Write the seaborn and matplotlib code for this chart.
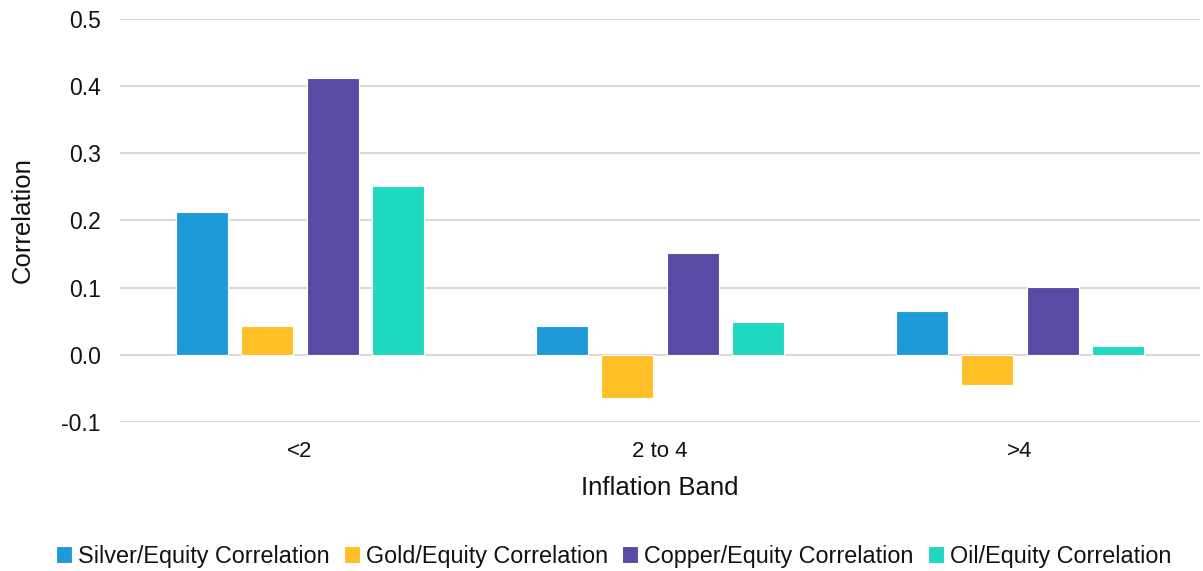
import pandas as pd
import seaborn as sns
import matplotlib
matplotlib.use("Agg")
import matplotlib.pyplot as plt
from matplotlib.ticker import FormatStrFormatter, MultipleLocator

bands = ["<2", "2 to 4", ">4"]
series_names = ["Silver/Equity Correlation", "Gold/Equity Correlation",
                "Copper/Equity Correlation", "Oil/Equity Correlation"]
silver = [0.213, 0.043, 0.065]
gold = [0.043, -0.065, -0.045]
copper = [0.412, 0.152, 0.101]
oil = [0.251, 0.049, 0.013]
colors = ["#1F9AD8", "#FFBF27", "#584BA5", "#1ED8C2"]

rows = []
for name, vals in zip(series_names, [silver, gold, copper, oil]):
    for b, v in zip(bands, vals):
        rows.append({"band": b, "series": name, "value": v})
df = pd.DataFrame(rows)

sns.set_theme(style="white")
plt.rcParams["font.family"] = ["Liberation Sans", "DejaVu Sans"]
plt.rcParams["axes.unicode_minus"] = False

fig = plt.figure(figsize=(12.03, 5.71), dpi=100)
ax = fig.add_axes([0.0998, 0.261, 0.8977, 0.7057])

sns.barplot(data=df, x="band", y="value", hue="series", order=bands,
            hue_order=series_names, palette=colors, width=0.725,
            saturation=1, edgecolor="white", linewidth=0.8, ax=ax)

for p in ax.patches:
    w = p.get_width()
    nw = w * 0.796
    p.set_x(p.get_x() + (w - nw) / 2)
    p.set_width(nw)

ax.set_xlim(-0.5, 2.5)
ax.set_ylim(-0.1, 0.5)
ax.yaxis.set_major_locator(MultipleLocator(0.1))
ax.yaxis.set_major_formatter(FormatStrFormatter("%.1f"))
ax.yaxis.grid(True, color="#D9D9D9", linewidth=1.5)
ax.set_axisbelow(True)
for s in ax.spines.values():
    s.set_visible(False)
ax.tick_params(axis="y", length=0, pad=14, labelsize=16.5, labelcolor="#111111")
ax.tick_params(axis="x", length=0, pad=14, labelsize=16, labelcolor="#111111")

ax.set_xlabel("Inflation Band", fontsize=18.5, color="#111111", labelpad=10)
ax.set_ylabel("Correlation", fontsize=18.5, color="#111111")
ax.yaxis.set_label_coords(-0.079, 0.5)

handles, labels = ax.get_legend_handles_labels()
ax.get_legend().remove()
fig.legend(handles, labels, loc="center", bbox_to_anchor=(0.51, 0.026),
           ncol=4, frameon=False, fontsize=16.8, handlelength=0.7,
           handleheight=0.7, handletextpad=0.25, columnspacing=0.6,
           labelcolor="#111111")

fig.savefig("out.png", dpi=100)
